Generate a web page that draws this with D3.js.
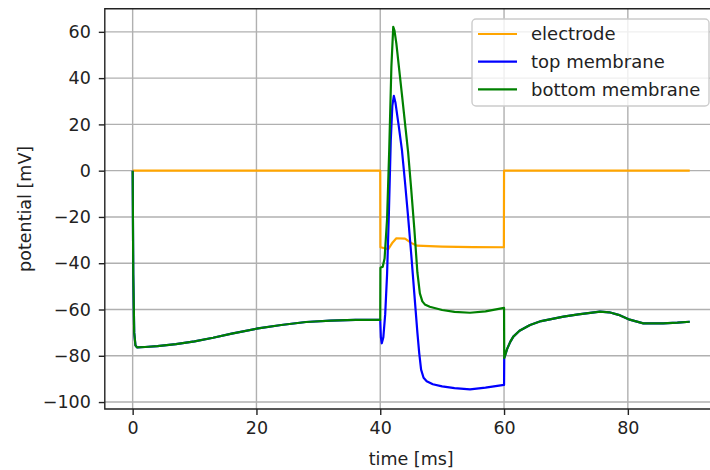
<!DOCTYPE html>
<html>
<head>
<meta charset="utf-8">
<script src="https://cdn.jsdelivr.net/npm/d3@7"></script>
<style>
	body { margin: 0; background: white; }
	text { font-family: "DejaVu Sans", sans-serif; fill: #222; }
</style>
</head>
<body>
<script>

// electrode trace
var electrodeT = [0, 40, 40.03, 41.3, 42.0, 42.6, 44.0, 45.0, 45.9, 50, 55, 59.97, 60.0, 90]
var electrodeV = [0, 0, -33.1, -33.9, -31, -29.2, -29.4, -31.2, -32.4, -32.8, -33.0, -33.1, 0, 0]

// resting part, same for both membranes (0 - 40 ms)
var restT = [0, 0.1, 0.25, 0.45, 0.7, 2, 4, 7, 10, 13, 16, 20, 24, 28, 32, 36, 39.97]
var restV = [0, -45, -70, -75.5, -76.4, -76.2, -75.8, -75, -73.8, -72.2, -70.4, -68.3, -66.7, -65.4, -64.8, -64.5, -64.5]

// recovery after the pulse, same for both membranes (60 - 90 ms)
var recoveryT = [60.03, 60.5, 61, 61.5, 62.5, 64.2, 66, 69.6, 72, 75.5, 77, 78.5, 80.3, 82.5, 85.7, 88, 90]
var recoveryV = [-81, -77, -74, -71.7, -69.2, -66.7, -65, -63.1, -62.1, -60.9, -61.2, -62.3, -64.4, -66, -66, -65.7, -65.3]

// top membrane during pulse
var topT = [40, 40.1, 40.25, 40.5, 40.8, 41.1, 41.4, 41.7, 41.95, 42.2, 42.45, 43.0, 43.5, 44.0, 44.5, 45.0, 45.5, 46.0, 46.3, 46.6, 47.0, 47.5, 48.5, 50, 52, 54.5, 57, 60.0]
var topV = [-64.5, -72, -74.6, -72, -62, -45, -18, 13, 28, 32.3, 29.5, 19, 9, -5, -20, -36, -53, -70, -79, -86, -89.5, -91, -92.3, -93.2, -94, -94.5, -93.8, -92.6]

// bottom membrane during pulse
var bottomT = [40, 40.03, 40.4, 40.7, 41.1, 41.45, 41.8, 42.1, 42.3, 42.6, 43.5, 44.5, 45.0, 45.5, 46.0, 46.4, 46.8, 47.2, 48, 50, 52, 54.5, 57, 60.0]
var bottomV = [-64.5, -42, -41.5, -38, -21, 9, 45, 62.2, 60.5, 55, 33, 8, -8, -25, -44, -53, -56.5, -57.8, -58.8, -60.2, -61, -61.4, -60.8, -59.3]

var xTicks = [0, 20, 40, 60, 80]
var yTicks = [-100, -80, -60, -40, -20, 0, 20, 40, 60]

var labels = ['electrode', 'top membrane', 'bottom membrane']
var colors = ['orange', 'blue', 'green']

function zip(ts, vs) {
	return ts.map((t, i) => [t, vs[i]])
}

var series = [
	zip(electrodeT, electrodeV),
	zip(restT.concat(topT, recoveryT), restV.concat(topV, recoveryV)),
	zip(restT.concat(bottomT, recoveryT), restV.concat(bottomV, recoveryV))
]

var width = 710,
	height = 470

var axLeft = 104.8, axRight = 717.6, axTop = 8.7, axBottom = 409

var x = d3.scaleLinear()
	.domain([-4.5, 94.5])
	.range([axLeft, axRight])

var y = d3.scaleLinear()
	.domain([-103, 70])
	.range([axBottom, axTop])

var svg = d3.select('body').append('svg')
	.attr('width', width)
	.attr('height', height)

svg.append('clipPath')
	.attr('id', 'clip')
	.append('rect')
		.attr('x', axLeft)
		.attr('y', axTop)
		.attr('width', axRight - axLeft)
		.attr('height', axBottom - axTop)

// grid
svg.selectAll('.gx')
	.data(xTicks)
	.enter()
	.append('line')
		.attr('x1', d => x(d))
		.attr('x2', d => x(d))
		.attr('y1', axTop)
		.attr('y2', axBottom)
		.attr('stroke', '#b0b0b0')
		.attr('stroke-width', 1.4)

svg.selectAll('.gy')
	.data(yTicks)
	.enter()
	.append('line')
		.attr('x1', axLeft)
		.attr('x2', axRight)
		.attr('y1', d => y(d))
		.attr('y2', d => y(d))
		.attr('stroke', '#b0b0b0')
		.attr('stroke-width', 1.4)

var line = d3.line()
	.x(d => x(d[0]))
	.y(d => y(d[1]))

svg.append('g')
	.attr('clip-path', 'url(#clip)')
	.selectAll('path')
	.data(series)
	.enter()
	.append('path')
		.attr('d', d => line(d))
		.attr('fill', 'none')
		.attr('stroke', (d, i) => colors[i])
		.attr('stroke-width', 2.2)
		.attr('stroke-linejoin', 'round')

// axes
var fmt = d => d < 0 ? '\u2212' + Math.abs(d) : '' + d

svg.append('g')
	.attr('transform', 'translate(0,' + axBottom + ')')
	.call(d3.axisBottom(x).tickValues(xTicks).tickFormat(fmt).tickSizeOuter(0).tickSize(6).tickPadding(7))

svg.append('g')
	.attr('transform', 'translate(' + axLeft + ',0)')
	.call(d3.axisLeft(y).tickValues(yTicks).tickFormat(fmt).tickSizeOuter(0).tickSize(6).tickPadding(8))

svg.selectAll('.domain').remove()
svg.selectAll('.tick line')
	.attr('stroke', '#222')
	.attr('stroke-width', 1.4)
svg.selectAll('.tick text')
	.style('font-family', '"DejaVu Sans", sans-serif')
	.style('font-size', '17.5px')
	.attr('fill', '#222')

// spines
svg.append('path')
	.attr('d', 'M' + axRight + ',' + axTop + 'H' + axLeft + 'V' + axBottom + 'H' + axRight)
	.attr('fill', 'none')
	.attr('stroke', '#222')
	.attr('stroke-width', 1.4)

svg.append('text')
	.attr('x', (axLeft + axRight) / 2)
	.attr('y', 465)
	.attr('text-anchor', 'middle')
	.style('font-size', '17.5px')
	.text('time [ms]')

svg.append('text')
	.attr('transform', 'translate(31,' + ((axTop + axBottom) / 2) + ') rotate(-90)')
	.attr('text-anchor', 'middle')
	.style('font-size', '17.5px')
	.text('potential [mV]')

// legend
var legend = svg.append('g')

legend.append('rect')
	.attr('x', 472)
	.attr('y', 19)
	.attr('width', 237)
	.attr('height', 87)
	.attr('rx', 4)
	.attr('fill', 'white')
	.attr('fill-opacity', 0.8)
	.attr('stroke', '#cccccc')
	.attr('stroke-width', 1.4)

legend.selectAll('line')
	.data(labels)
	.enter()
	.append('line')
		.attr('x1', 478)
		.attr('x2', 517)
		.attr('y1', (d, i) => 34 + i * 27.7)
		.attr('y2', (d, i) => 34 + i * 27.7)
		.attr('stroke', (d, i) => colors[i])
		.attr('stroke-width', 2.2)

legend.selectAll('text')
	.data(labels)
	.enter()
	.append('text')
		.attr('x', 531)
		.attr('y', (d, i) => 34 + i * 27.7)
		.attr('dy', '0.36em')
		.style('font-size', '18px')
		.text(d => d)

</script>
</body>
</html>
